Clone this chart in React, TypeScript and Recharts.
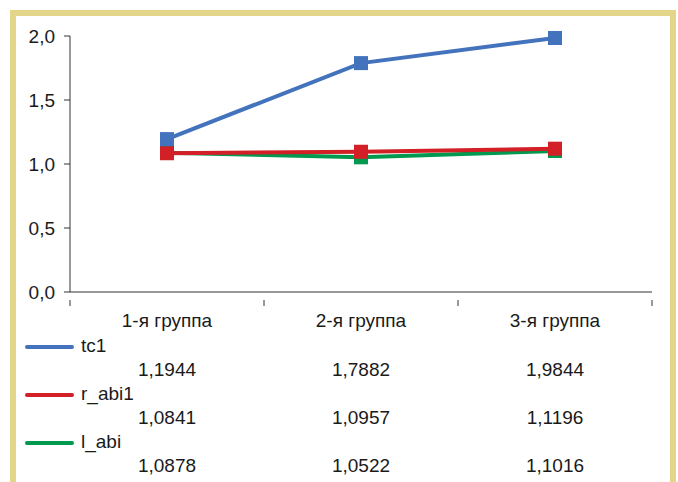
import React from 'react';
import { LineChart, Line, XAxis, YAxis } from 'recharts';

const categories = ['1-я группа', '2-я группа', '3-я группа'];
const tc1 = [1.1944, 1.7882, 1.9844];
const rAbi1 = [1.0841, 1.0957, 1.1196];
const lAbi = [1.0878, 1.0522, 1.1016];
const yTicks = [0, 0.5, 1, 1.5, 2];

const series = [
    { key: 'tc1', name: 'tc1', values: tc1, color: '#4373bd' },
    { key: 'r_abi1', name: 'r_abi1', values: rAbi1, color: '#d31f26' },
    { key: 'l_abi', name: 'l_abi', values: lAbi, color: '#00994f' },
];

// draw order: green under red, blue on top
const drawOrder = ['l_abi', 'r_abi1', 'tc1'];

const data = categories.map((c, i) => ({
    x: i + 0.5,
    name: c,
    tc1: tc1[i],
    r_abi1: rAbi1[i],
    l_abi: lAbi[i],
}));

const W = 678;
const H = 482;
const PLOT_LEFT = 70;
const PLOT_RIGHT = 652;
const PLOT_TOP = 36;
const PLOT_BOTTOM = 292;
const XAXIS_H = 40;
const FONT = "'Liberation Sans', Arial, sans-serif";
const FS = 19;
const AXIS = '#333';
const TXT = '#1a1a1a';

const fmt = (v: number, d: number) => v.toFixed(d).replace('.', ',');

const SquareDot = (color: string) => (props: any) => {
    const { cx, cy } = props;
    if (cx == null || cy == null) return null;
    return <rect x={cx - 7} y={cy - 7} width={14} height={14} fill={color} />;
};

// x axis: boundaries get tick marks, centers get the category labels
const XTick = (props: any) => {
    const { x, y, payload } = props;
    const v = payload.value;
    if (Number.isInteger(v)) {
        return <line x1={x} x2={x} y1={y} y2={y + 6} stroke={AXIS} strokeWidth={1} />;
    }
    const idx = Math.floor(v);
    return (
        <text x={x} y={y + 27} textAnchor="middle" fill={TXT} fontSize={FS} fontFamily={FONT}>
            {categories[idx]}
        </text>
    );
};

export default function App() {
    const colW = (PLOT_RIGHT - PLOT_LEFT) / categories.length;
    return (
        <div style={{ position: 'absolute', left: 0, top: 0, width: W, height: H, background: '#fff', overflow: 'hidden' }}>
            {/* yellow frame */}
            <div style={{
                position: 'absolute', left: 10, top: 10, width: 654, height: 490,
                border: '6px solid #e3d68a', background: '#fff',
            }} />
            <div style={{ position: 'absolute', left: 0, top: 0 }}>
                <LineChart
                    width={W}
                    height={PLOT_BOTTOM + XAXIS_H}
                    data={data}
                    margin={{ top: PLOT_TOP, right: W - PLOT_RIGHT, bottom: 0, left: 0 }}
                >
                    <XAxis
                        dataKey="x"
                        type="number"
                        domain={[0, 3]}
                        ticks={[0, 0.5, 1, 1.5, 2, 2.5, 3]}
                        tick={<XTick />}
                        tickLine={false}
                        axisLine={{ stroke: AXIS, strokeWidth: 1 }}
                        height={XAXIS_H}
                        interval={0}
                    />
                    <YAxis
                        type="number"
                        domain={[0, 2]}
                        ticks={yTicks}
                        tickFormatter={(v) => fmt(v, 1)}
                        width={PLOT_LEFT}
                        tickSize={6}
                        tickMargin={9}
                        tickLine={{ stroke: AXIS }}
                        axisLine={{ stroke: AXIS, strokeWidth: 1 }}
                        tick={{ fill: TXT, fontSize: FS, fontFamily: FONT }}
                    />
                    {drawOrder.map((k) => {
                        const s = series.find((x) => x.key === k)!;
                        return (
                            <Line
                                key={s.key}
                                dataKey={s.key}
                                name={s.name}
                                type="linear"
                                stroke={s.color}
                                strokeWidth={4}
                                dot={SquareDot(s.color)}
                                activeDot={false}
                                isAnimationActive={false}
                            />
                        );
                    })}
                </LineChart>
            </div>
            {/* data table */}
            {series.map((s, si) => {
                const top = 347 + si * 48;
                return (
                    <React.Fragment key={s.key}>
                        <div style={{
                            position: 'absolute', left: 25, top: top - 2, width: 49, height: 4,
                            borderRadius: 2, background: s.color,
                        }} />
                        <div style={{
                            position: 'absolute', left: 81, top: top - 13, fontFamily: FONT,
                            fontSize: FS, color: TXT, lineHeight: '24px',
                        }}>{s.name}</div>
                        {s.values.map((v, i) => (
                            <div key={i} style={{
                                position: 'absolute', left: PLOT_LEFT + colW * (i + 0.5) - 50, width: 100,
                                top: top + 11, textAlign: 'center', fontFamily: FONT, fontSize: FS,
                                color: TXT, lineHeight: '24px',
                            }}>{fmt(v, 4)}</div>
                        ))}
                    </React.Fragment>
                );
            })}
        </div>
    );
}
